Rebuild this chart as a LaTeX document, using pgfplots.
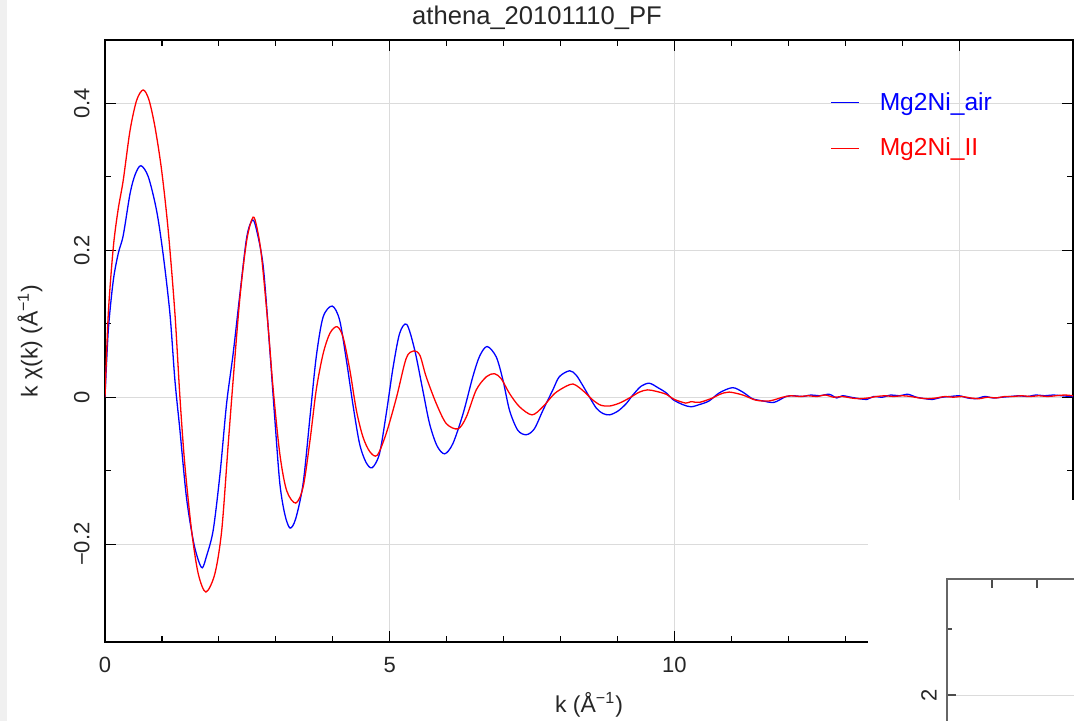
\documentclass[border=0pt]{standalone}
\usepackage{pgfplots}
\pgfplotsset{compat=1.18}
\usepackage{fontspec}
\setmainfont{Liberation Sans}
\begin{document}
\begin{tikzpicture}
\path[use as bounding box] (0,0) rectangle (537pt,360.5pt);
\fill[black!6] (0,0) rectangle (3.5pt,360.5pt);
\begin{axis}[
  at={(52.5pt,39.5pt)}, anchor=south west,
  width=484pt, height=301pt, scale only axis,
  xmin=0, xmax=17, ymin=-0.333, ymax=0.486,
  xtick={0,5,10,15}, xticklabels={0,5,10,15},
  minor x tick num=4,
  ytick={-0.2,0,0.2,0.4}, yticklabels={−0.2,0,0.2,0.4},
  minor y tick num=1,
  tick align=inside, major tick length=5.5pt, minor tick length=3pt,
  tick style={black, line width=0.6pt},
  grid=major, major grid style={black!14, line width=0.5pt},
  axis line style={black, line width=0.8pt},
  ticklabel style={font=\fontsize{11}{13}\selectfont, text=black!85},
  xticklabel style={inner ysep=7.5pt},
  yticklabel style={rotate=90, anchor=south, inner ysep=7.5pt},
  xlabel={k (Å\textsuperscript{−1})},
  xlabel style={at={(axis description cs:0.5,-0.1047)}, anchor=center, font=\fontsize{11.5}{13}\selectfont, text=black!85},
  ylabel={k χ(k) (Å\textsuperscript{−1})},
  ylabel style={at={(axis description cs:-0.0775,0.5)}, anchor=center, font=\fontsize{11.5}{13}\selectfont, text=black!85},
  legend style={draw=none, fill=none, at={(axis description cs:0.7427,0.927)}, anchor=north west,
    font=\fontsize{12.3}{14}\selectfont, row sep=8.4pt, cells={anchor=west}},
  every axis plot/.append style={smooth, tension=0.5},
]
% Mg2Ni_air
\addplot[blue, line width=0.65pt,
  legend image code/.code={\draw[blue, line width=0.7pt] (0pt,0pt) -- (14pt,0pt);}] coordinates {
(0,0) (0.058,0.091) (0.146,0.159) (0.234,0.196) (0.32,0.220) (0.44,0.277)
(0.53,0.303) (0.63,0.315) (0.76,0.300) (0.906,0.254) (1.02,0.195) (1.14,0.114)
(1.228,0.023) (1.316,-0.045) (1.43,-0.136) (1.55,-0.195) (1.64,-0.222) (1.71,-0.232)
(1.78,-0.217) (1.90,-0.181) (2.02,-0.104) (2.135,-0.009) (2.25,0.059) (2.37,0.141)
(2.49,0.218) (2.59,0.241) (2.66,0.228) (2.78,0.177) (2.895,0.064) (2.98,-0.027)
(3.07,-0.117) (3.16,-0.160) (3.25,-0.178) (3.35,-0.165) (3.48,-0.117) (3.60,-0.027)
(3.71,0.055) (3.83,0.109) (3.99,0.124) (4.12,0.105) (4.24,0.05) (4.36,-0.013)
(4.47,-0.063) (4.58,-0.088) (4.69,-0.096) (4.82,-0.077) (4.94,-0.022) (5.06,0.041)
(5.175,0.087) (5.30,0.099) (5.44,0.064) (5.58,0.01) (5.70,-0.036) (5.83,-0.066)
(5.965,-0.077) (6.11,-0.063) (6.29,-0.022) (6.46,0.028) (6.58,0.056) (6.71,0.069)
(6.87,0.055) (6.99,0.023) (7.105,-0.018) (7.25,-0.045) (7.40,-0.051) (7.54,-0.043)
(7.69,-0.018) (7.865,0.01) (7.98,0.028) (8.16,0.036) (8.275,0.030) (8.39,0.016)
(8.51,0.0) (8.63,-0.015) (8.74,-0.022) (8.86,-0.024) (9.005,-0.019) (9.15,-0.009)
(9.27,0.003) (9.415,0.015) (9.56,0.019) (9.71,0.013) (9.855,0.006) (9.97,-0.003)
(10.145,-0.010) (10.29,-0.013) (10.44,-0.010) (10.61,-0.005) (10.79,0.006) (11.02,0.013)
(11.20,0.007) (11.37,-0.002) (11.55,-0.005) (11.75,-0.007) (11.96,0.001) (12.1,0.002)
(12.25,0.001) (12.4,0.003) (12.55,0.002) (12.72,0.004) (12.85,-0.001) (12.95,0.002)
(13.1,0.0) (13.25,-0.002) (13.38,-0.003) (13.5,0.001) (13.65,0.0) (13.8,0.003)
(13.95,0.002) (14.1,0.004) (14.25,0.0) (14.4,-0.002) (14.53,-0.003) (14.7,0.0)
(14.85,0.001) (15.0,0.002) (15.15,-0.001) (15.3,-0.002) (15.45,0.001) (15.6,-0.001)
(15.75,0.0) (15.9,0.001) (16.05,0.002) (16.2,0.001) (16.35,0.003) (16.5,0.002)
(16.65,0.003) (16.8,0.002) (16.95,0.001) (17,0.001)
};
\addlegendentry{\hspace{8pt}\textcolor{blue}{Mg2Ni\_air}}
% Mg2Ni_II
\addplot[red, line width=0.65pt,
  legend image code/.code={\draw[red, line width=0.7pt] (0pt,0pt) -- (14pt,0pt);}] coordinates {
(0,0) (0.058,0.114) (0.146,0.204) (0.23,0.255) (0.32,0.295) (0.44,0.363)
(0.556,0.404) (0.67,0.418) (0.77,0.405) (0.877,0.368) (0.994,0.309) (1.11,0.227)
(1.228,0.114) (1.316,0.0) (1.40,-0.090) (1.52,-0.181) (1.637,-0.240) (1.772,-0.265)
(1.93,-0.240) (2.05,-0.181) (2.16,-0.068) (2.25,0.023) (2.37,0.136) (2.49,0.214)
(2.60,0.245) (2.67,0.230) (2.75,0.191) (2.865,0.096) (2.95,0.014) (3.07,-0.077)
(3.19,-0.127) (3.35,-0.144) (3.48,-0.122) (3.60,-0.059) (3.71,0.01) (3.83,0.059)
(3.95,0.087) (4.075,0.096) (4.18,0.082) (4.30,0.037) (4.415,-0.018) (4.53,-0.054)
(4.65,-0.074) (4.78,-0.079) (4.94,-0.049) (5.12,0.0) (5.29,0.053) (5.42,0.063)
(5.53,0.057) (5.64,0.028) (5.82,-0.009) (5.995,-0.036) (6.20,-0.043) (6.345,-0.027)
(6.52,0.010) (6.70,0.028) (6.84,0.032) (6.96,0.025) (7.105,0.005) (7.28,-0.013)
(7.50,-0.024) (7.69,-0.013) (7.895,0.005) (8.10,0.015) (8.22,0.018) (8.33,0.013)
(8.45,0.005) (8.57,-0.004) (8.71,-0.011) (8.86,-0.012) (9.035,-0.008) (9.21,-0.001)
(9.385,0.007) (9.53,0.010) (9.68,0.008) (9.855,0.004) (10.0,-0.003) (10.20,-0.008)
(10.29,-0.006) (10.44,-0.007) (10.67,-0.001) (10.80,0.004) (10.96,0.007) (11.20,0.003)
(11.43,-0.004) (11.67,-0.005) (11.90,0.0) (12.05,0.002) (12.2,0.001) (12.35,0.002)
(12.5,0.001) (12.65,0.003) (12.8,0.0) (12.95,0.001) (13.1,-0.001) (13.25,-0.002)
(13.4,-0.001) (13.55,0.001) (13.7,0.002) (13.85,0.001) (14.0,0.002) (14.15,0.001)
(14.3,-0.001) (14.45,-0.002) (14.6,-0.001) (14.75,0.001) (14.9,0.0) (15.05,0.001)
(15.2,-0.001) (15.35,-0.002) (15.5,0.0) (15.65,-0.001) (15.8,0.001) (15.95,0.001)
(16.1,0.002) (16.25,0.001) (16.4,0.002) (16.55,0.001) (16.7,0.002) (16.85,0.003)
(17,0.002)
};
\addlegendentry{\hspace{8pt}\textcolor{red}{Mg2Ni\_II}}
\end{axis}
\node[font=\fontsize{12.8}{14}\selectfont, text=black!85] at (268.5pt,351.5pt) {athena\_20101110\_PF};
% overlapping window in the lower right corner
\fill[white] (434pt,0) rectangle (537pt,110.5pt);
\begin{axis}[
  at={(473.5pt,71pt)}, anchor=north west,
  width=126.5pt, height=110.5pt, scale only axis,
  xmin=0, xmax=5.62, ymin=1.2045, ymax=2.879,
  xtick={1,2,3,4,5}, xticklabels={},
  ytick={2}, yticklabels={2}, minor ytick={2.5},
  tick align=inside, major tick length=4.5pt, minor tick length=2.5pt,
  tick style={black!70, line width=0.6pt},
  ymajorgrids, major grid style={black!14, line width=0.5pt},
  axis line style={black!60, line width=0.8pt},
  ticklabel style={font=\fontsize{11}{13}\selectfont, text=black!85},
  yticklabel style={rotate=90, anchor=south, inner ysep=5pt},
]
\end{axis}
\end{tikzpicture}
\end{document}
